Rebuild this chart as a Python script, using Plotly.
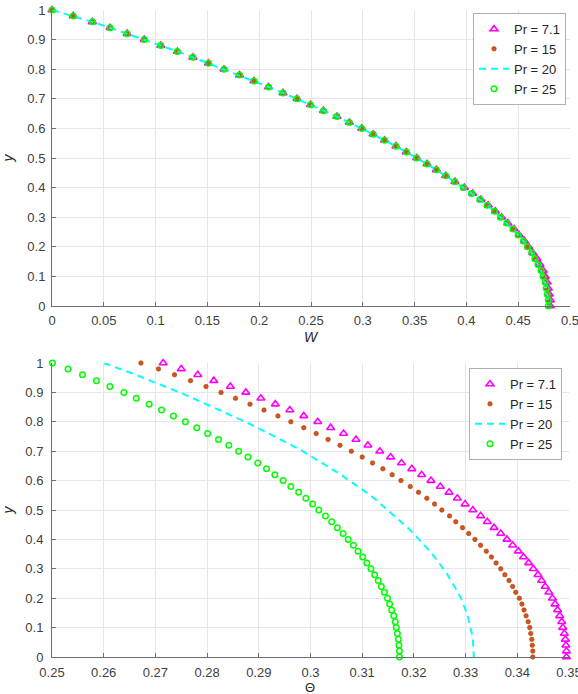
import plotly.graph_objects as go

# ---------------- data ----------------
y_vals = [1.00, 0.98, 0.96, 0.94, 0.92, 0.90, 0.88, 0.86, 0.84, 0.82,
          0.80, 0.78, 0.76, 0.74, 0.72, 0.70, 0.68, 0.66, 0.64, 0.62,
          0.60, 0.58, 0.56, 0.54, 0.52, 0.50, 0.48, 0.46, 0.44, 0.42,
          0.40, 0.38, 0.36, 0.34, 0.32, 0.30, 0.28, 0.26, 0.24, 0.22,
          0.20, 0.18, 0.16, 0.14, 0.12, 0.10, 0.08, 0.06, 0.04, 0.02, 0.00]

series_names = ["Pr = 7.1", "Pr = 15", "Pr = 20", "Pr = 25"]

# Top panel: W
W_pr71 = [0, 0.0205, 0.039, 0.056, 0.0725, 0.089, 0.105, 0.121, 0.136, 0.151,
          0.166, 0.181, 0.195, 0.209, 0.223, 0.2365, 0.2495, 0.262, 0.275, 0.287,
          0.299, 0.310, 0.321, 0.332, 0.342, 0.352, 0.362, 0.371, 0.380, 0.389,
          0.398, 0.406, 0.414, 0.421, 0.428, 0.434, 0.440, 0.446, 0.451, 0.456,
          0.460, 0.464, 0.468, 0.471, 0.474, 0.476, 0.478, 0.479, 0.480, 0.481, 0.481]
W_pr15 = [0, 0.0205, 0.039, 0.056, 0.0725, 0.089, 0.105, 0.121, 0.136, 0.151,
          0.166, 0.181, 0.195, 0.209, 0.223, 0.2365, 0.2495, 0.262, 0.275, 0.287,
          0.299, 0.310, 0.321, 0.332, 0.342, 0.352, 0.362, 0.371, 0.380, 0.389,
          0.397, 0.405, 0.413, 0.420, 0.427, 0.433, 0.439, 0.445, 0.450, 0.455,
          0.459, 0.463, 0.467, 0.470, 0.473, 0.475, 0.477, 0.478, 0.479, 0.480, 0.480]
W_pr20 = [0, 0.0205, 0.039, 0.056, 0.0725, 0.089, 0.105, 0.121, 0.136, 0.151,
          0.166, 0.181, 0.195, 0.209, 0.223, 0.2365, 0.2495, 0.262, 0.275, 0.287,
          0.299, 0.310, 0.321, 0.332, 0.342, 0.352, 0.362, 0.371, 0.380, 0.389,
          0.397, 0.405, 0.413, 0.420, 0.427, 0.433, 0.439, 0.445, 0.450, 0.455,
          0.459, 0.463, 0.466, 0.469, 0.472, 0.474, 0.476, 0.477, 0.478, 0.479, 0.479]
W_pr25 = [0, 0.0205, 0.039, 0.056, 0.0725, 0.089, 0.105, 0.121, 0.136, 0.151,
          0.166, 0.181, 0.195, 0.209, 0.223, 0.2365, 0.2495, 0.262, 0.275, 0.287,
          0.299, 0.310, 0.321, 0.332, 0.342, 0.352, 0.362, 0.371, 0.380, 0.389,
          0.397, 0.405, 0.413, 0.420, 0.427, 0.433, 0.439, 0.445, 0.450, 0.455,
          0.459, 0.463, 0.466, 0.469, 0.472, 0.474, 0.476, 0.477, 0.478, 0.479, 0.479]

# Bottom panel: Theta
T_pr71 = [0.2715, 0.2750, 0.2782, 0.2813, 0.2845, 0.2875, 0.2904, 0.2932, 0.2960, 0.2987,
          0.3014, 0.3039, 0.3064, 0.3088, 0.3111, 0.3134, 0.3155, 0.3176, 0.3196, 0.3215,
          0.3233, 0.3251, 0.3268, 0.3284, 0.3299, 0.3314, 0.3329, 0.3342, 0.3355, 0.3368,
          0.3380, 0.3391, 0.3402, 0.3412, 0.3422, 0.3431, 0.3440, 0.3447, 0.3454, 0.3461,
          0.3468, 0.3473, 0.3478, 0.3482, 0.3486, 0.3488, 0.3491, 0.3493, 0.3494, 0.3495, 0.3495]
T_pr15 = [0.2672, 0.2706, 0.2737, 0.2768, 0.2798, 0.2827, 0.2855, 0.2883, 0.2910, 0.2937,
          0.2962, 0.2987, 0.3011, 0.3034, 0.3057, 0.3079, 0.3100, 0.3120, 0.3140, 0.3158,
          0.3175, 0.3193, 0.3209, 0.3225, 0.3240, 0.3254, 0.3269, 0.3281, 0.3294, 0.3306,
          0.3318, 0.3329, 0.3340, 0.3350, 0.3359, 0.3368, 0.3376, 0.3384, 0.3391, 0.3397,
          0.3404, 0.3409, 0.3413, 0.3417, 0.3421, 0.3424, 0.3426, 0.3428, 0.3429, 0.3430, 0.3430]
T_pr20 = [0.2600, 0.2632, 0.2662, 0.2690, 0.2719, 0.2747, 0.2773, 0.2799, 0.2825, 0.2850,
          0.2874, 0.2897, 0.2920, 0.2942, 0.2964, 0.2985, 0.3004, 0.3023, 0.3042, 0.3059,
          0.3075, 0.3092, 0.3108, 0.3123, 0.3136, 0.3150, 0.3164, 0.3176, 0.3188, 0.3199,
          0.3210, 0.3221, 0.3231, 0.3240, 0.3249, 0.3257, 0.3265, 0.3272, 0.3279, 0.3285,
          0.3291, 0.3296, 0.3300, 0.3304, 0.3307, 0.3310, 0.3312, 0.3314, 0.3315, 0.3316, 0.3316]
T_pr25 = [0.2501, 0.2531, 0.2559, 0.2586, 0.2612, 0.2639, 0.2663, 0.2688, 0.2712, 0.2735,
          0.2758, 0.2780, 0.2801, 0.2822, 0.2842, 0.2861, 0.2879, 0.2898, 0.2915, 0.2931,
          0.2947, 0.2962, 0.2977, 0.2991, 0.3004, 0.3016, 0.3029, 0.3041, 0.3052, 0.3063,
          0.3073, 0.3083, 0.3092, 0.3101, 0.3109, 0.3117, 0.3124, 0.3131, 0.3137, 0.3143,
          0.3149, 0.3153, 0.3157, 0.3161, 0.3164, 0.3166, 0.3168, 0.3170, 0.3171, 0.3172, 0.3172]

x1_ticks = [0, 0.05, 0.1, 0.15, 0.2, 0.25, 0.3, 0.35, 0.4, 0.45, 0.5]
x1_labels = ["0", "0.05", "0.1", "0.15", "0.2", "0.25", "0.3", "0.35", "0.4", "0.45", "0.5"]
x2_ticks = [0.25, 0.26, 0.27, 0.28, 0.29, 0.3, 0.31, 0.32, 0.33, 0.34, 0.35]
x2_labels = ["0.25", "0.26", "0.27", "0.28", "0.29", "0.3", "0.31", "0.32", "0.33", "0.34", "0.35"]
y_ticks = [0, 0.1, 0.2, 0.3, 0.4, 0.5, 0.6, 0.7, 0.8, 0.9, 1]
y_labels = ["0", "0.1", "0.2", "0.3", "0.4", "0.5", "0.6", "0.7", "0.8", "0.9", "1"]

# ---------------- styles ----------------
MAG = "#FF00FF"
ORA = "#D95319"
CYA = "#00FFFF"
GRN = "#00FF00"
FONT = "Liberation Sans, Arial, sans-serif"

def style(i):
    if i == 0:
        return dict(mode="markers", marker=dict(symbol="triangle-up-open", size=7, color=MAG, line=dict(width=1.6, color=MAG)))
    if i == 1:
        return dict(mode="markers", marker=dict(symbol="circle", size=4.5, color=ORA, line=dict(width=0.6, color="#A0400F")))
    if i == 2:
        return dict(mode="lines", line=dict(color=CYA, width=2, dash="7px,5px"))
    return dict(mode="markers", marker=dict(symbol="circle-open", size=5.5, color=GRN, line=dict(width=1.5, color=GRN)))

fig = go.Figure()
top_sets = [W_pr71, W_pr15, W_pr20, W_pr25]
bot_sets = [T_pr71, T_pr15, T_pr20, T_pr25]
for i, (name, xs) in enumerate(zip(series_names, top_sets)):
    fig.add_trace(go.Scatter(x=xs, y=y_vals, name=name, xaxis="x", yaxis="y", legend="legend",
                             cliponaxis=False, **style(i)))
for i, (name, xs) in enumerate(zip(series_names, bot_sets)):
    fig.add_trace(go.Scatter(x=xs, y=y_vals, name=name, xaxis="x2", yaxis="y2", legend="legend2",
                             cliponaxis=False, **style(i)))

W_fig, H_fig = 578, 694
def px_x(p):
    return p / W_fig
def px_y(p):
    return 1 - p / H_fig

axis_common = dict(
    showgrid=True, gridcolor="#e6e6e6", gridwidth=1,
    zeroline=False, showline=True, linecolor="#6e6e6e", linewidth=1,
    ticks="inside", ticklen=4, tickcolor="#6e6e6e",
    tickfont=dict(family=FONT, size=13, color="#404040"),
    mirror=False, tickmode="array", ticklabeloverflow="allow", automargin=False,
)
TITLE_FONT = dict(family=FONT, size=14, color="#262626")

legend_common = dict(
    bgcolor="white", bordercolor="#b0b0b0", borderwidth=1,
    font=dict(family=FONT, size=13, color="#262626"),
    xanchor="right", yanchor="top", tracegroupgap=0, itemwidth=30,
)

fig.update_layout(
    width=W_fig, height=H_fig,
    margin=dict(l=0, r=0, t=0, b=0, autoexpand=False),
    paper_bgcolor="white", plot_bgcolor="white",
    showlegend=True,
    xaxis=dict(axis_common, domain=[px_x(52), px_x(570)], range=[0, 0.5],
               tickvals=x1_ticks, ticktext=x1_labels, ticklabelstandoff=2,
               anchor="y"),
    yaxis=dict(axis_common, domain=[px_y(306), px_y(10)], range=[0, 1],
               tickvals=y_ticks, ticktext=y_labels, ticklabelstandoff=3,
               anchor="x",
               title=dict(text="<i>y</i>", font=TITLE_FONT, standoff=17)),
    xaxis2=dict(axis_common, domain=[px_x(52), px_x(569)], range=[0.25, 0.35],
                tickvals=x2_ticks, ticktext=x2_labels, ticklabelstandoff=3,
                anchor="y2"),
    yaxis2=dict(axis_common, domain=[px_y(657), px_y(363)], range=[0, 1],
                tickvals=y_ticks, ticktext=y_labels, ticklabelstandoff=5,
                anchor="x2",
                title=dict(text="<i>y</i>", font=TITLE_FONT, standoff=17)),
    legend=dict(legend_common, x=px_x(566), y=px_y(13)),
    legend2=dict(legend_common, x=px_x(562), y=px_y(368)),
    annotations=[
        dict(text="<i>W</i>", xref="paper", yref="paper", x=px_x(311), y=px_y(337),
             xanchor="center", yanchor="middle", showarrow=False, font=TITLE_FONT),
        dict(text="Θ", xref="paper", yref="paper", x=px_x(310), y=px_y(687),
             xanchor="center", yanchor="middle", showarrow=False,
             font=dict(family=FONT, size=13, color="#262626")),
    ],
)

fig.write_html("out.html")
